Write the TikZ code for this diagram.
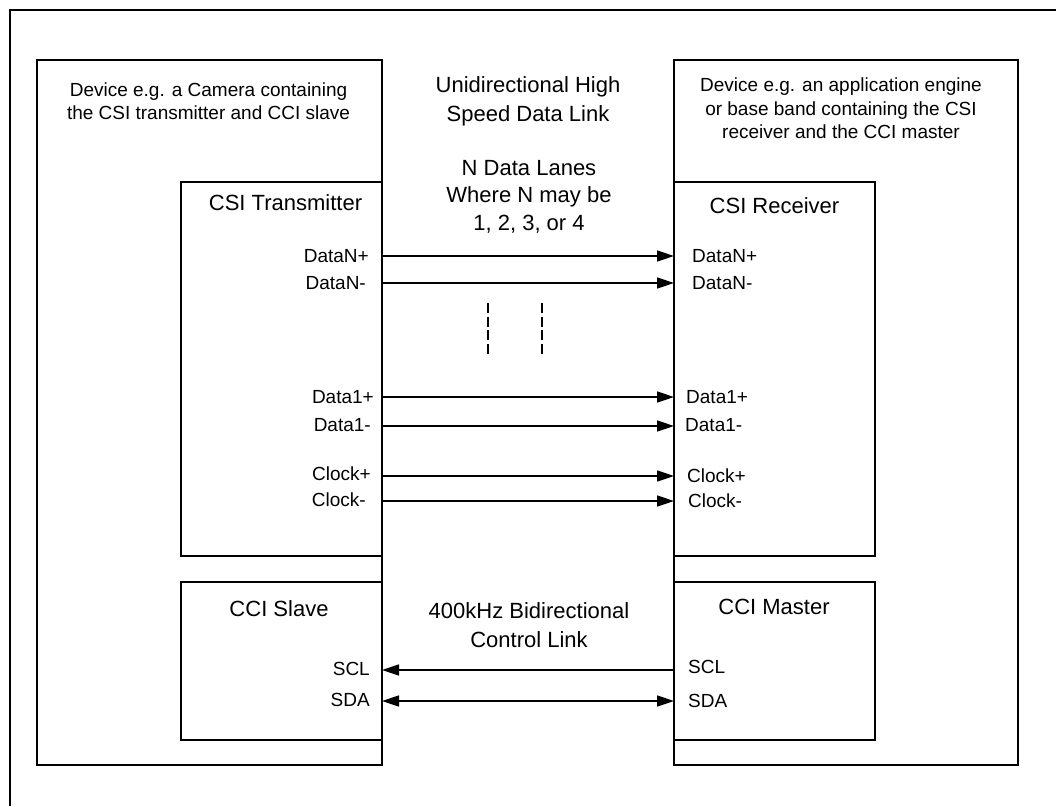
\documentclass[tikz,border=0pt]{standalone}
\usepackage{fontspec}
\setmainfont{Liberation Sans}
\usetikzlibrary{arrows.meta}
\begin{document}
\begin{tikzpicture}[x=1pt,y=-1pt,
  box/.style={draw, line width=1.7pt, inner sep=0pt, outer sep=0pt, anchor=north west},
  sig/.style={line width=1.6pt, -{Triangle[length=17pt,width=11pt]}},
  bisig/.style={line width=1.6pt, {Triangle[length=17pt,width=11pt]}-{Triangle[length=17pt,width=11pt]}},
  lbl/.style={font=\fontsize{19}{23}\selectfont, inner sep=0pt, text height=13.6pt, text depth=0pt},
  lbll/.style={lbl, anchor=east},
  lblr/.style={lbl, anchor=west},
  small/.style={font=\fontsize{19}{#1}\selectfont, inner sep=0pt, align=center, anchor=north},
  big/.style={font=\fontsize{22}{#1}\selectfont, inner sep=0pt, align=center, anchor=north},
  frame/.style={line width=2pt},
  lanedash/.style={line width=1.6pt, dash pattern=on 10pt off 3.7pt}
]
\useasboundingbox (0,0) rectangle (1056,806);
% outer frame (only top and left visible)
\draw[frame] (10,806) -- (10,10) -- (1056,10);

% devices
\node[box, minimum width=345pt, minimum height=705pt] (ldev) at (37,60) {};
\node[box, minimum width=344pt, minimum height=705pt] (rdev) at (674,60) {};
% inner blocks
\node[box, minimum width=201pt, minimum height=374pt] (tx) at (181,182) {};
\node[box, minimum width=201pt, minimum height=374pt] (rx) at (674,182) {};
\node[box, minimum width=201pt, minimum height=158pt] (slv) at (181,582) {};
\node[box, minimum width=201pt, minimum height=158pt] (mst) at (674,582) {};

% texts
\node[small=22.5pt] (ldevtxt) at (208.5,82.7) {Device e.g. a Camera containing\\the CSI transmitter and CCI slave};
\node[small=23.5pt] (rdevtxt) at (841,77.7) {Device e.g. an application engine\\or base band containing the CSI\\receiver and the CCI master};
\node[big=29pt] (hsdl) at (528,76.7) {Unidirectional High\\Speed Data Link};
\node[big=27.5pt] (lanes) at (529,160) {N Data Lanes\\Where N may be\\1, 2, 3, or 4};
\node[big=28pt] (txtxt) at (285.5,194.3) {CSI Transmitter};
\node[big=28pt] (rxtxt) at (774.5,197) {CSI Receiver};
\node[big=28pt] (slvtxt) at (279,600) {CCI Slave};
\node[big=28pt] (msttxt) at (774,598.5) {CCI Master};
\node[big=29pt] (ctl) at (529,602.7) {400kHz Bidirectional\\Control Link};

% left labels
\node[lbll] (lDNp) at (369,256) {DataN+};
\node[lbll] (lDNm) at (366,283) {DataN-};
\node[lbll] (lD1p) at (374,397) {Data1+};
\node[lbll] (lD1m) at (371,425) {Data1-};
\node[lbll] (lCp)  at (371,474) {Clock+};
\node[lbll] (lCm)  at (366,500) {Clock-};
\node[lbll] (lSCL) at (370,669) {SCL};
\node[lbll] (lSDA) at (370,700) {SDA};
% right labels
\node[lblr] (rDNp) at (692,256) {DataN+};
\node[lblr] (rDNm) at (692,283) {DataN-};
\node[lblr] (rD1p) at (686,397) {Data1+};
\node[lblr] (rD1m) at (685,425) {Data1-};
\node[lblr] (rCp)  at (687,476) {Clock+};
\node[lblr] (rCm)  at (688,501) {Clock-};
\node[lblr] (rSCL) at (688,667) {SCL};
\node[lblr] (rSDA) at (688,701) {SDA};

% connectors
\coordinate (yDNp) at (0,256);
\coordinate (yDNm) at (0,283);
\coordinate (yD1p) at (0,397);
\coordinate (yD1m) at (0,426);
\coordinate (yCp)  at (0,476);
\coordinate (yCm)  at (0,501);
\coordinate (ySCL) at (0,670);
\coordinate (ySDA) at (0,701);
\draw[sig] (tx.east |- yDNp) -- (rx.west |- yDNp);
\draw[sig] (tx.east |- yDNm) -- (rx.west |- yDNm);
\draw[sig] (tx.east |- yD1p) -- (rx.west |- yD1p);
\draw[sig] (tx.east |- yD1m) -- (rx.west |- yD1m);
\draw[sig] (tx.east |- yCp) -- (rx.west |- yCp);
\draw[sig] (tx.east |- yCm) -- (rx.west |- yCm);
\draw[sig] (mst.west |- ySCL) -- (slv.east |- ySCL);
\draw[bisig] (slv.east |- ySDA) -- (mst.west |- ySDA);

% ellipsis dashes
\draw[lanedash] (488,303) -- (488,354);
\draw[lanedash] (542,303) -- (542,354);
\end{tikzpicture}
\end{document}
